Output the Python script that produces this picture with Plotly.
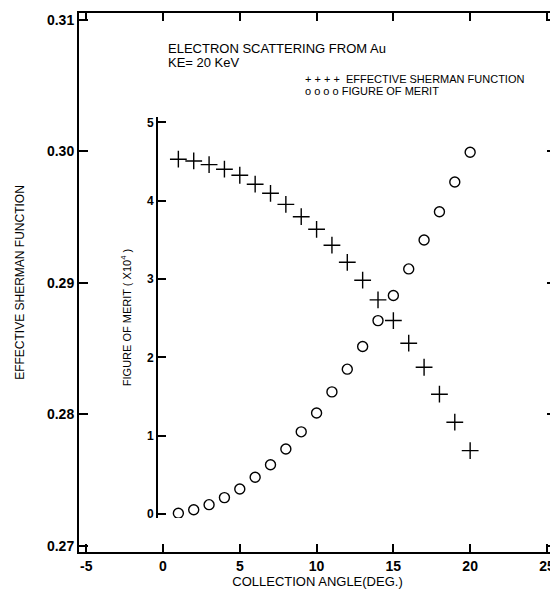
import plotly.graph_objects as go

angles = list(range(1, 21))
sherman = [0.29941, 0.29928, 0.29900, 0.29865, 0.29819, 0.29751, 0.29682, 0.29598,
           0.29504, 0.29408, 0.29287, 0.29157, 0.29021, 0.28871, 0.28714, 0.28542,
           0.28359, 0.28154, 0.27941, 0.27725]
merit = [0.01, 0.055, 0.12, 0.21, 0.32, 0.47, 0.63, 0.83, 1.05, 1.29,
         1.56, 1.85, 2.14, 2.47, 2.79, 3.13, 3.50, 3.86, 4.24, 4.62]

x_ticks = [-5, 0, 5, 10, 15, 20, 25]
y_ticks = [0.27, 0.28, 0.29, 0.30, 0.31]
y2_ticks = [0, 1, 2, 3, 4, 5]

FONT = "Liberation Sans, Arial, sans-serif"

fig = go.Figure()
fig.add_trace(go.Scatter(
    x=angles, y=sherman, mode="markers", name="EFFECTIVE SHERMAN FUNCTION",
    marker=dict(symbol="cross-thin", size=12, line=dict(color="black", width=1.4)),
    xaxis="x", yaxis="y", showlegend=False))
fig.add_trace(go.Scatter(
    x=angles, y=merit, mode="markers", name="FIGURE OF MERIT",
    marker=dict(symbol="circle-open", size=10, color="black", line=dict(color="black", width=1.4)),
    xaxis="x", yaxis="y2", showlegend=False))

tickfont_main = dict(size=14, family=FONT, weight="bold")

fig.update_layout(
    width=550, height=593,
    margin=dict(l=71, r=2, t=5, b=49, autoexpand=False),
    paper_bgcolor="white", plot_bgcolor="rgba(0,0,0,0)",
    font=dict(family=FONT, color="black"),
    xaxis=dict(range=[-5.47, 25.59], tickvals=x_ticks, ticktext=[str(v) for v in x_ticks],
               ticks="inside", ticklen=8, tickwidth=1.5, tickcolor="black",
               showline=True, linecolor="black", linewidth=2, mirror="ticks",
               showgrid=False, zeroline=False, automargin=False,
               tickfont=tickfont_main,
               title=dict(text="COLLECTION ANGLE(DEG.)", font=dict(size=13), standoff=0)),
    yaxis=dict(range=[0.26954, 0.31053], tickvals=y_ticks,
               ticktext=["0.27", "0.28", "0.29", "0.30", "0.31"],
               ticks="inside", ticklen=9, tickwidth=1.5, tickcolor="black",
               showline=True, linecolor="black", linewidth=2, mirror="ticks",
               showgrid=False, zeroline=False, automargin=False,
               tickfont=tickfont_main,
               title=dict(text="EFFECTIVE SHERMAN FUNCTION", font=dict(size=12), standoff=20)),
    yaxis2=dict(range=[-0.05, 5.07], domain=[0.0631, 0.8071], anchor="free",
                position=0.1635, side="left",
                tickvals=y2_ticks, ticks="inside", ticklen=8, tickwidth=1.5, tickcolor="black",
                showline=True, linecolor="black", linewidth=2,
                showgrid=False, zeroline=False, automargin=False,
                tickfont=dict(size=12, family=FONT, weight="bold"),
                title=dict(text="FIGURE OF MERIT ( X10<sup>4</sup> )", font=dict(size=11), standoff=12)),
    annotations=[
        dict(text="ELECTRON SCATTERING FROM Au", xref="paper", yref="paper",
             x=0.1824, y=0.935, xanchor="left", yanchor="middle", showarrow=False,
             font=dict(size=13)),
        dict(text="KE= 20 KeV", xref="paper", yref="paper",
             x=0.1824, y=0.909, xanchor="left", yanchor="middle", showarrow=False,
             font=dict(size=13)),
        dict(text="+ + + +  EFFECTIVE SHERMAN FUNCTION", xref="paper", yref="paper",
             x=0.4696, y=0.8776, xanchor="left", yanchor="middle", showarrow=False,
             font=dict(size=11)),
        dict(text="o o o o FIGURE OF MERIT", xref="paper", yref="paper",
             x=0.4696, y=0.855, xanchor="left", yanchor="middle", showarrow=False,
             font=dict(size=11)),
    ],
)

fig.write_html("out.html")
